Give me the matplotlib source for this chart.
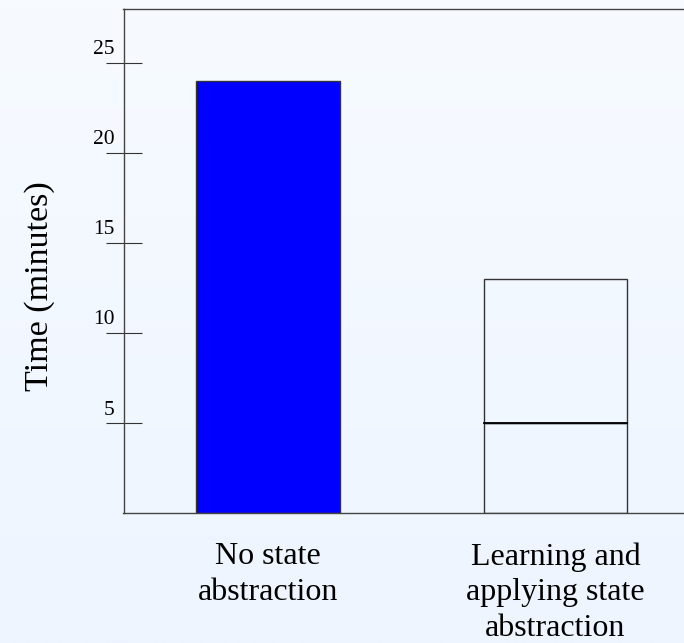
import numpy as np
import matplotlib
matplotlib.use('Agg')
import matplotlib.pyplot as plt

categories = ['No state\nabstraction', 'Learning and\napplying state\nabstraction']
base_minutes = [24, 5]       # lower segment of each bar
extra_minutes = [0, 8]       # upper segment stacked on top
yticks = [5, 10, 15, 20, 25]

plt.rcParams['font.family'] = ['Liberation Serif', 'DejaVu Serif']

fig = plt.figure(figsize=(6.84, 6.43), dpi=100)

# soft vertical gradient behind everything
bg = fig.add_axes([0, 0, 1, 1], zorder=-10)
grad = np.linspace(0, 1, 256).reshape(-1, 1)
top_c = np.array([0xF7, 0xFB, 0xFF]) / 255
bot_c = np.array([0xEE, 0xF5, 0xFF]) / 255
img = top_c + (bot_c - top_c) * grad[:, :, None]
bg.imshow(img, aspect='auto', extent=[0, 1, 0, 1])
bg.axis('off')

ax = fig.add_axes([123.5 / 684, 130 / 643, (684 - 123.5) / 684, (513 - 8.5) / 643])
ax.patch.set_alpha(0)

x = np.arange(len(categories))
ax.bar(x[0], base_minutes[0], width=0.5, color='#0000FF', edgecolor='#333333', linewidth=1)
ax.bar(x[1], base_minutes[1], width=0.5, color='none', edgecolor='#333333', linewidth=1)
ax.bar(x[1], extra_minutes[1], bottom=base_minutes[1], width=0.5, color='none',
       edgecolor='#333333', linewidth=1)
ax.plot([x[1] - 0.25, x[1] + 0.25], [base_minutes[1]] * 2, color='black', lw=1.3)

ax.set_xlim(-0.5026, 1.447)
ax.set_ylim(0, 28)

ax.spines['right'].set_visible(False)
for side in ['left', 'top', 'bottom']:
    ax.spines[side].set_color('#444444')
    ax.spines[side].set_linewidth(1)

ax.set_xticks([])
ax.set_yticks(yticks)
ax.tick_params(axis='y', direction='inout', length=26, width=0.8, color='#333333',
               labelleft=False)
for v in yticks:
    ax.annotate(str(v), xy=(0, v), xycoords=('axes fraction', 'data'),
                xytext=(-6.5, 6), textcoords='offset points',
                ha='right', va='baseline', fontsize=15.5, color='black')

for xi, lab in zip(x, categories):
    ax.annotate(lab, xy=(xi, 0), xycoords=('data', 'axes fraction'),
                xytext=(0, -21), textcoords='offset points',
                ha='center', va='top', fontsize=23, linespacing=1.3)

fig.text(24 / 684, 1 - 286 / 643, 'Time (minutes)', rotation=90,
         ha='left', va='center', fontsize=24.5)

fig.savefig('out.png', dpi=100)
